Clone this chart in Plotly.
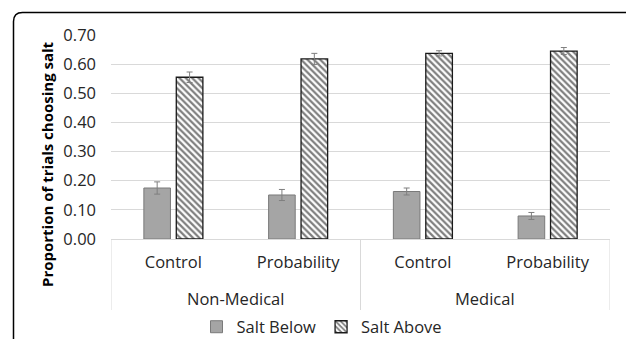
import plotly.graph_objects as go

groups = ["Non-Medical", "Medical"]
conditions = ["Control", "Probability", "Control", "Probability"]
salt_below = [0.175, 0.151, 0.163, 0.079]
salt_below_err = [0.021, 0.019, 0.012, 0.012]
salt_above = [0.555, 0.618, 0.637, 0.645]
salt_above_err = [0.018, 0.019, 0.009, 0.012]
y_ticks = [0.0, 0.1, 0.2, 0.3, 0.4, 0.5, 0.6, 0.7]

FONT = "Open Sans"
TXT = "#262626"
OFF = 8  # default page body margin
W, H = 634 - OFF, 339 - OFF
# plot area in page pixels: x 111..610, y 35..239
ML, MR, MT, MB = 111 - OFF, W - (610 - OFF), 35 - OFF, H - (239 - OFF)
PW, PH = W - ML - MR, H - MT - MB

def px_x(p):
    return (p - OFF - ML) / PW

def px_y(p):
    return (H - MB - (p - OFF)) / PH

xpos = list(range(len(conditions)))

fig = go.Figure()
fig.add_trace(go.Bar(
    name="Salt Below", x=xpos, y=salt_below,
    marker=dict(color="#a5a5a5", line=dict(color="#7a7a7a", width=1)),
    error_y=dict(type="data", array=salt_below_err, color="#7f7f7f", thickness=1, width=3),
))
fig.add_trace(go.Bar(
    name="Salt Above", x=xpos, y=salt_above,
    marker=dict(color="white", line=dict(color="#1a1a1a", width=1.3),
                pattern=dict(shape="\\", fgcolor="black", bgcolor="white", size=4.5, solidity=0.5)),
    error_y=dict(type="data", array=salt_above_err, color="#7f7f7f", thickness=1, width=3),
))

# group labels and dividers
n_per = len(conditions) // len(groups)
for gi, g in enumerate(groups):
    center = gi * n_per + (n_per - 1) / 2
    fig.add_annotation(text=g, x=center, xref="x", y=px_y(298), yref="paper",
                       showarrow=False, xanchor="center", yanchor="middle",
                       font=dict(family=FONT, size=16.5, color=TXT))
for k in range(len(groups) + 1):
    xd = k * n_per - 0.5
    fig.add_shape(type="line", x0=xd, x1=xd, xref="x", y0=0, y1=px_y(310), yref="paper",
                  line=dict(color="#d9d9d9", width=1))

# rounded frame
x0, x1 = px_x(13.5), px_x(638)
yt, yb = px_y(12.5), px_y(360)
rx, ry = 9 / PW, 9 / PH
path = (f"M {x0},{yb} L {x0},{yt-ry} Q {x0},{yt} {x0+rx},{yt} "
        f"L {x1-rx},{yt} Q {x1},{yt} {x1},{yt-ry} L {x1},{yb}")
fig.add_shape(type="path", xref="paper", yref="paper", path=path,
              line=dict(color="black", width=1.5))

fig.add_annotation(text="<b>Proportion of trials choosing salt</b>", xref="paper", yref="paper",
                   x=px_x(47), y=px_y(164), textangle=-90, showarrow=False,
                   xanchor="center", yanchor="middle",
                   font=dict(family=FONT, size=15, color="black"))

fig.update_layout(
    width=W, height=H,
    margin=dict(l=ML, r=MR, t=MT, b=MB, autoexpand=False),
    paper_bgcolor="white", plot_bgcolor="white",
    barmode="group", bargap=0.48, bargroupgap=0.18,
    font=dict(family=FONT, size=15, color=TXT),
    showlegend=True,
    legend=dict(orientation="h", x=px_x(322), xanchor="center", y=px_y(327), yanchor="middle",
                font=dict(family=FONT, size=16.5, color=TXT), itemwidth=30, tracegroupgap=0,
                borderwidth=0, bgcolor="rgba(0,0,0,0)"),
    xaxis=dict(range=[-0.5, len(conditions) - 0.5], tickvals=xpos, ticktext=conditions,
               showline=True, linecolor="#d9d9d9", linewidth=1, showgrid=False, zeroline=False,
               ticks="", automargin=False, ticklabelstandoff=8,
               tickfont=dict(family=FONT, size=16.5, color=TXT)),
    yaxis=dict(range=[0, 0.7], tickvals=y_ticks, tickformat=".2f", showgrid=True,
               gridcolor="#d9d9d9", gridwidth=1, zeroline=False, showline=False, automargin=False,
               tickfont=dict(family=FONT, size=16.5, color=TXT), ticklabelstandoff=14),
)

fig.write_html("out.html")
